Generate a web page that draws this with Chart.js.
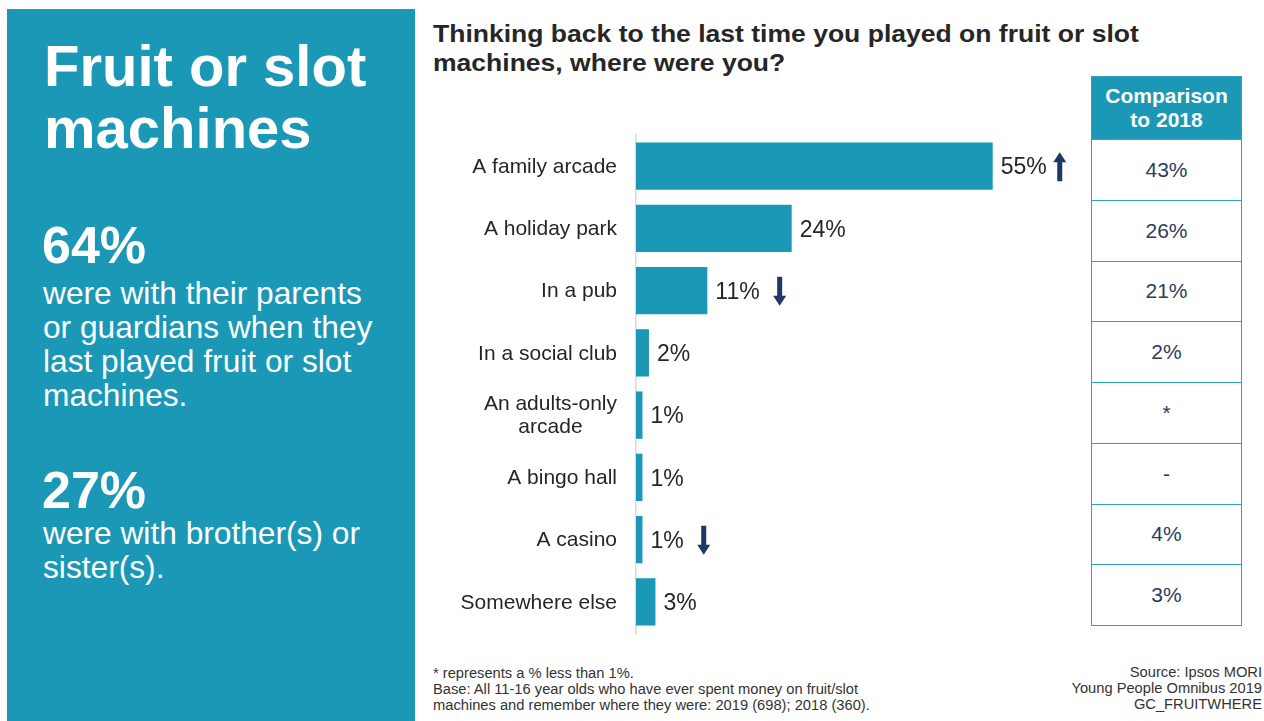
<!DOCTYPE html>
<html>
<head>
<meta charset="utf-8">
<script src="https://cdn.jsdelivr.net/npm/chart.js@4"></script>
<style>
  body { margin: 0; width: 1264px; height: 721px; background: #fff; position: relative; overflow: hidden; font-family: "Liberation Sans", Arial, sans-serif; }
  .panel { position: absolute; left: 7px; top: 9px; width: 408px; height: 712px; background: #1b98b6; color: #fff; }
  .abs { position: absolute; white-space: nowrap; }
  .big { font-weight: bold; font-size: 58px; line-height: 62px; left: 37px; top: 26px; }
  .stat { font-weight: bold; font-size: 52px; line-height: 52px; left: 35px; }
  .body { font-size: 31.7px; line-height: 34px; left: 36px; }
  .title { left: 433px; top: 19px; font-weight: bold; font-size: 24px; line-height: 29px; color: #262626; transform: scaleX(1.105); transform-origin: 0 0; }
  .note { font-size: 14.7px; line-height: 16px; color: #333; }
  #chartBox { position: absolute; left: 420px; top: 130px; width: 670px; height: 506px; }
  .table { position: absolute; left: 1091px; top: 76px; width: 151px; border: 1.5px solid #2ea3c0; box-sizing: border-box; }
  .th { height: 62px; background: #1b98b6; color: #fff; font-weight: bold; font-size: 21px; line-height: 24px; text-align: center; display: flex; align-items: center; justify-content: center; }
  .td { height: 60.75px; border-top: 1.5px solid #2ea3c0; box-sizing: border-box; color: #2b3c5e; font-size: 21px; display: flex; align-items: center; justify-content: center; }
</style>
</head>
<body>
<div class="panel">
  <div class="abs big">Fruit or slot<br>machines</div>
  <div class="abs stat" style="top:210px">64%</div>
  <div class="abs body" style="top:267px">were with their parents<br>or guardians when they<br>last played fruit or slot<br>machines.</div>
  <div class="abs stat" style="top:455px">27%</div>
  <div class="abs body" style="top:507px">were with brother(s) or<br>sister(s).</div>
</div>

<div class="abs title">Thinking back to the last time you played on fruit or slot<br>machines, where were you?</div>

<div id="chartBox"><canvas id="chart"></canvas></div>

<div class="table" id="cmp"><div class="th">Comparison<br>to 2018</div></div>

<div class="abs note" style="left:433px; top:665px">* represents a % less than 1%.<br>Base: All 11-16 year olds who have ever spent money on fruit/slot<br>machines and remember where they were: 2019 (698); 2018 (360).</div>
<div class="abs note" style="right:2px; top:664px; text-align:right">Source: Ipsos MORI<br>Young People Omnibus 2019<br>GC_FRUITWHERE</div>

<script>
const categories = [
  'A family arcade',
  'A holiday park',
  'In a pub',
  'In a social club',
  ['An adults-only', 'arcade'],
  'A bingo hall',
  'A casino',
  'Somewhere else'
];
const values2019 = [55, 24, 11, 2, 1, 1, 1, 3];
const changes = ['up', null, 'down', null, null, null, 'down', null];
const values2018 = ['43%', '26%', '21%', '2%', '*', '-', '4%', '3%'];

const TEAL = '#1b98b6';
const NAVY = '#1f3864';

// comparison table
const cmp = document.getElementById('cmp');
values2018.forEach(v => {
  const d = document.createElement('div');
  d.className = 'td';
  d.textContent = v;
  cmp.appendChild(d);
});

// category labels (centered multi-line) + value labels + change arrows
const labelPlugin = {
  id: 'labelPlugin',
  afterDatasetsDraw(chart) {
    const ctx = chart.ctx;
    const yScale = chart.scales.y;
    const meta = chart.getDatasetMeta(0);
    ctx.save();

    ctx.font = '21px "Liberation Sans", Arial, sans-serif';
    ctx.fillStyle = '#262626';
    ctx.textBaseline = 'middle';
    ctx.textAlign = 'center';
    categories.forEach((lab, i) => {
      const lines = Array.isArray(lab) ? lab : [lab];
      const w = Math.max(...lines.map(l => ctx.measureText(l).width));
      const cx = chart.chartArea.left - 19 - w / 2;
      const cy = yScale.getPixelForTick(i) + 1;
      const lh = 23;
      lines.forEach((l, j) => {
        ctx.fillText(l, cx, cy + (j - (lines.length - 1) / 2) * lh);
      });
    });

    ctx.font = '23px "Liberation Sans", Arial, sans-serif';
    ctx.textAlign = 'left';
    meta.data.forEach((bar, i) => {
      const txt = values2019[i] + '%';
      const x = bar.x + 8;
      ctx.fillStyle = '#262626';
      ctx.fillText(txt, x, bar.y + 2);
      const dir = changes[i];
      if (!dir) return;
      const gap = dir === 'up' ? 13 : 20;
      const ax = x + ctx.measureText(txt).width + gap;
      const top = bar.y - 14, bot = bar.y + 15;
      ctx.fillStyle = NAVY;
      ctx.beginPath();
      if (dir === 'up') {
        ctx.moveTo(ax, top);
        ctx.lineTo(ax + 6.5, top + 10);
        ctx.lineTo(ax + 2.5, top + 10);
        ctx.lineTo(ax + 2.5, bot);
        ctx.lineTo(ax - 2.5, bot);
        ctx.lineTo(ax - 2.5, top + 10);
        ctx.lineTo(ax - 6.5, top + 10);
      } else {
        ctx.moveTo(ax, bot);
        ctx.lineTo(ax + 6.5, bot - 10);
        ctx.lineTo(ax + 2.5, bot - 10);
        ctx.lineTo(ax + 2.5, top);
        ctx.lineTo(ax - 2.5, top);
        ctx.lineTo(ax - 2.5, bot - 10);
        ctx.lineTo(ax - 6.5, bot - 10);
      }
      ctx.closePath();
      ctx.fill();
    });
    ctx.restore();
  }
};

new Chart(document.getElementById('chart'), {
  type: 'bar',
  data: {
    labels: categories,
    datasets: [{
      data: values2019,
      backgroundColor: TEAL,
      borderWidth: 0,
      barPercentage: 0.76,
      categoryPercentage: 1
    }]
  },
  options: {
    indexAxis: 'y',
    responsive: true,
    maintainAspectRatio: false,
    animation: false,
    layout: { padding: { top: 5, bottom: 3, left: 0, right: 0 } },
    plugins: { legend: { display: false }, tooltip: { enabled: false } },
    scales: {
      x: { display: false, min: 0, max: 70 },
      y: {
        grid: { display: false },
        border: { display: true, color: '#d9d9d9', width: 1.5 },
        ticks: { display: false },
        afterFit(scale) { scale.width = 216; }
      }
    }
  },
  plugins: [labelPlugin]
});
</script>
</body>
</html>
